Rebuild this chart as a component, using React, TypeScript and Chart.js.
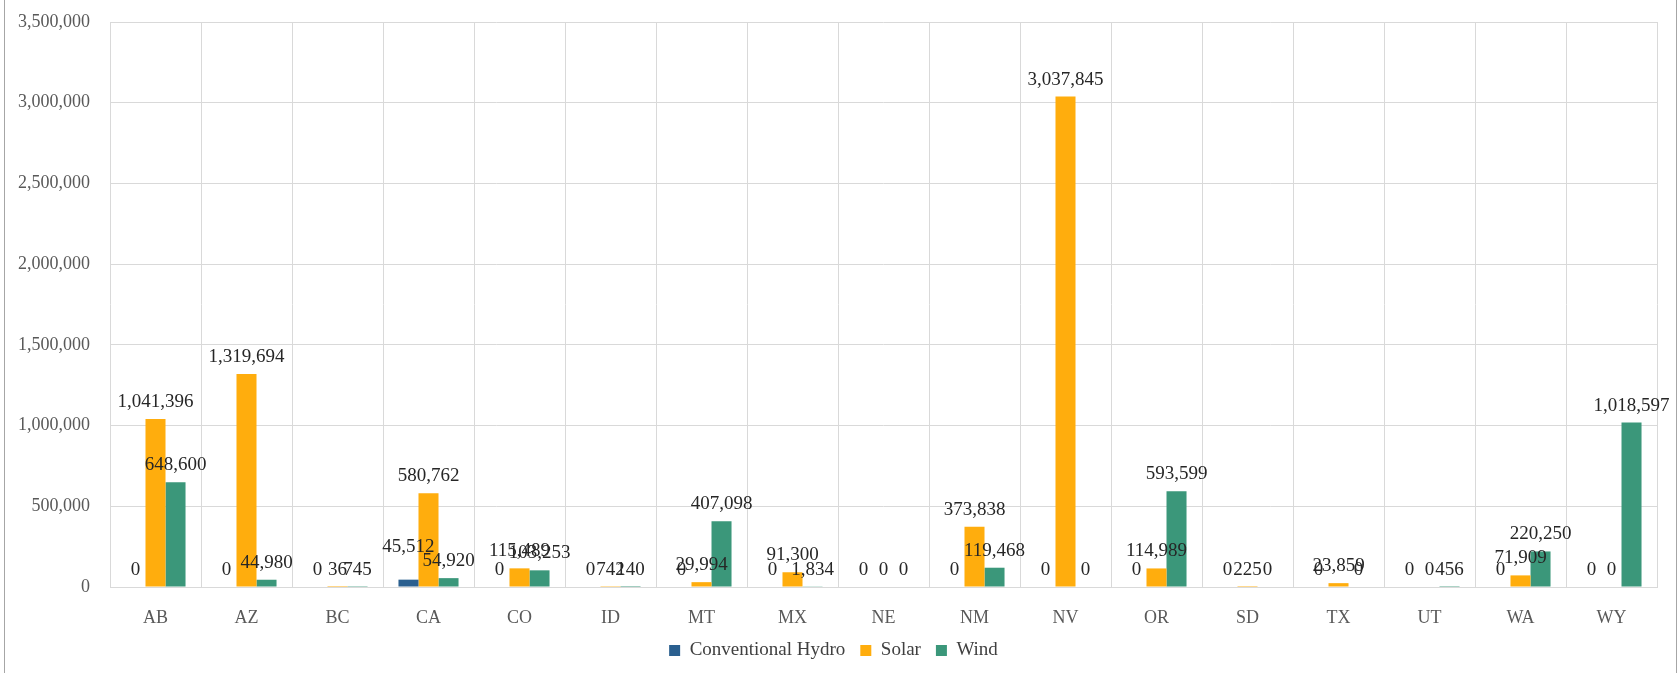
import React, { useEffect, useRef } from "react";
import { Chart, registerables } from "chart.js";

Chart.register(...registerables);

const categories = ["AB", "AZ", "BC", "CA", "CO", "ID", "MT", "MX", "NE", "NM", "NV", "OR", "SD", "TX", "UT", "WA", "WY"];
const hydro = [0, 0, 0, 45512, 0, 0, 0, 0, 0, 0, 0, 0, 0, 0, 0, 0, 0];
const solar = [1041396, 1319694, 36, 580762, 115489, 742, 29994, 91300, 0, 373838, 3037845, 114989, 225, 23859, 0, 71909, 0];
const wind = [648600, 44980, 745, 54920, 103253, 140, 407098, 1834, 0, 119468, 0, 593599, 0, 0, 456, 220250, 1018597];
const seriesNames = ["Conventional Hydro", "Solar", "Wind"];
const yTicksMax = 3500000;
const yTickStep = 500000;

const COLORS = ["#2a5f8f", "#ffad0d", "#3b977a"];
const FONT = "'Liberation Serif', 'Times New Roman', serif";
// manual lift (px) of a few labels, as in the reference
const LABEL_LIFT: Record<string, number> = { "0:3": 16 };

const labelPlugin = {
  id: "barValueLabels",
  afterDatasetsDraw(chart: any) {
    const ctx = chart.ctx;
    ctx.save();
    ctx.font = `19px ${FONT}`;
    ctx.fillStyle = "#262626";
    ctx.textAlign = "center";
    ctx.textBaseline = "alphabetic";
    chart.data.datasets.forEach((ds: any, di: number) => {
      const meta = chart.getDatasetMeta(di);
      meta.data.forEach((bar: any, i: number) => {
        const v = ds.data[i] as number;
        const lift = LABEL_LIFT[`${di}:${i}`] || 0;
        ctx.fillText(v.toLocaleString("en-US"), bar.x, bar.y - 12 - lift);
      });
    });
    ctx.restore();
  },
};

export default function App() {
  const ref = useRef<HTMLCanvasElement>(null);
  useEffect(() => {
    if (!ref.current) return;
    const chart = new Chart(ref.current, {
      type: "bar",
      data: {
        labels: categories,
        datasets: [hydro, solar, wind].map((d, i) => ({
          label: seriesNames[i],
          data: d,
          backgroundColor: COLORS[i],
          borderWidth: 0,
          categoryPercentage: 0.66,
          barPercentage: 1.0,
        })),
      },
      options: {
        animation: false,
        responsive: false,
        maintainAspectRatio: false,
        layout: { padding: { left: 10, right: 21, top: 22, bottom: 3 } },
        plugins: {
          tooltip: { enabled: false },
          legend: {
            position: "bottom",
            labels: {
              font: { family: FONT, size: 19 },
              color: "#404040",
              boxWidth: 11,
              boxHeight: 11,
              padding: 15,
            },
          },
        },
        scales: {
          x: {
            grid: { color: "#d9d9d9", lineWidth: 1, drawTicks: false, offset: true },
            border: { color: "#d9d9d9" },
            ticks: { font: { family: FONT, size: 18 }, color: "#595959", padding: 20 },
            afterFit: (s: any) => { s.height = 39; },
          },
          y: {
            min: 0,
            max: yTicksMax,
            grid: { color: "#d9d9d9", lineWidth: 1, drawTicks: false },
            border: { display: false },
            ticks: {
              stepSize: yTickStep,
              font: { family: FONT, size: 18 },
              color: "#595959",
              padding: 20,
              callback: (v: any) => Number(v).toLocaleString("en-US"),
            },
            afterFit: (s: any) => { s.width = 100; s.paddingTop = 0; s.paddingBottom = 0; },
          },
        },
      },
      plugins: [labelPlugin],
    });
    return () => chart.destroy();
  }, []);

  return (
    <div style={{ position: "fixed", left: 0, top: 0, width: 1678, height: 673, background: "#fff", overflow: "hidden" }}>
      <canvas ref={ref} width={1678} height={673} style={{ position: "absolute", left: 0, top: 0 }} />
      <div style={{ position: "absolute", left: 4, top: -2, width: 1671, height: 680, borderLeft: "1px solid #a6a6a6", borderRight: "1px solid #a6a6a6", pointerEvents: "none" }} />
    </div>
  );
}
